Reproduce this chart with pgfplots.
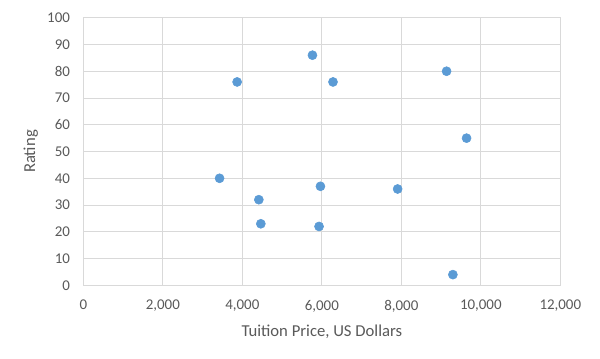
\documentclass[border=0pt]{standalone}
\usepackage{fontspec}
\setmainfont{Carlito}
\usepackage{pgfplots}
\pgfplotsset{compat=1.18}
\definecolor{txt}{HTML}{595959}
\definecolor{grd}{HTML}{D9D9D9}
\definecolor{mk}{HTML}{5B9BD5}
\begin{document}
\begin{tikzpicture}
\begin{axis}[
  at={(0,0)}, anchor=south west,
  scale only axis,
  width=357.75pt, height=200.7pt,
  xmin=0, xmax=12000, ymin=0, ymax=100,
  xtick={0,2000,...,12000}, ytick={0,10,...,100},
  grid=major,
  major grid style={grd, line width=0.75pt},
  axis line style={grd, line width=0.75pt},
  tick style={draw=none},
  /pgf/number format/assume math mode=true,
  /pgf/number format/1000 sep={,},
  scaled x ticks=false,
  ticklabel style={font=\fontsize{11.2}{13}\selectfont, text=txt},
  xticklabel style={yshift=-7.5pt},
  yticklabel style={xshift=-6.5pt},
  xlabel={Tuition Price, US Dollars},
  ylabel={Rating},
  label style={font=\fontsize{12.5}{14}\selectfont, text=txt},
  xlabel style={yshift=-3pt},
  ylabel style={yshift=0pt},
]
\addplot[only marks, mark=*, mark size=3.4pt, mark options={draw=mk, fill=mk}] coordinates {
(3869,76) (5764,86) (6281,76) (9138,80) (9641,55) (3427,40)
(4415,32) (4465,23) (5965,37) (5930,22) (7907,36) (9297,4)
};
\end{axis}
\useasboundingbox (-62.5pt,-55.25pt) rectangle (387.5pt,214pt);
\end{tikzpicture}
\end{document}
